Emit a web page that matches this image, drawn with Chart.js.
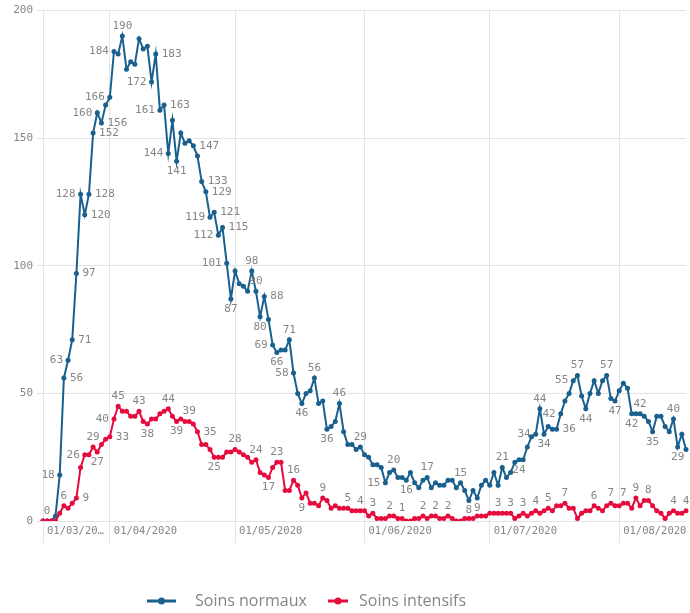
<!DOCTYPE html>
<html>
<head>
<meta charset="utf-8">
<title>Soins normaux / Soins intensifs</title>
<script src="https://cdn.jsdelivr.net/npm/chart.js"></script>
<style>
    html, body {
        margin: 0;
        padding: 0;
        background: #ffffff;
    }
    #wrap {
        width: 690px;
        height: 613px;
    }
</style>
</head>
<body>
<div id="wrap"><canvas id="hospChart"></canvas></div>
<script>
    // daily values from 16/03/2020
    const soinsNormaux = [
        0, 0, 0, 2, 18, 56, 63, 71, 97, 128,
        120, 128, 152, 160, 156, 163, 166, 184, 183, 190,
        177, 180, 179, 189, 185, 186, 172, 183, 161, 163,
        144, 157, 141, 152, 148, 149, 147, 143, 133, 129,
        119, 121, 112, 115, 101, 87, 98, 93, 92, 90,
        98, 90, 80, 88, 79, 69, 66, 67, 67, 71,
        58, 50, 46, 50, 51, 56, 46, 47, 36, 37,
        39, 46, 35, 30, 30, 28, 29, 26, 25, 22,
        22, 21, 15, 19, 20, 17, 17, 16, 19, 15,
        13, 16, 17, 13, 15, 14, 14, 16, 16, 13,
        15, 12, 8, 12, 9, 14, 16, 14, 19, 14,
        21, 17, 19, 23, 24, 24, 29, 33, 34, 44,
        34, 37, 36, 36, 42, 47, 50, 55, 57, 49,
        44, 50, 55, 50, 55, 57, 48, 47, 51, 54,
        52, 42, 42, 42, 41, 39, 35, 41, 41, 37,
        35, 40, 29, 34, 28
    ];
    const soinsIntensifs = [
        0, 0, 0, 0, 3, 6, 5, 7, 9, 21,
        26, 26, 29, 27, 30, 32, 33, 40, 45, 43,
        43, 41, 41, 43, 39, 38, 40, 40, 42, 43,
        44, 41, 39, 40, 39, 39, 38, 35, 30, 30,
        28, 25, 25, 25, 27, 27, 28, 27, 26, 25,
        23, 24, 19, 18, 17, 21, 23, 23, 12, 12,
        16, 14, 9, 11, 7, 7, 6, 9, 8, 5,
        6, 5, 5, 5, 4, 4, 4, 4, 2, 3,
        1, 1, 1, 2, 2, 1, 1, 0, 0, 1,
        1, 2, 1, 2, 2, 1, 1, 2, 1, 0,
        0, 1, 1, 1, 2, 2, 2, 3, 3, 3,
        3, 3, 3, 1, 2, 3, 2, 3, 4, 3,
        4, 5, 4, 6, 6, 7, 5, 5, 1, 3,
        4, 4, 6, 5, 4, 6, 7, 6, 6, 7,
        7, 5, 9, 6, 8, 8, 6, 4, 3, 1,
        3, 4, 3, 3, 4
    ];

    const categories = soinsNormaux.map((v, i) => {
        const d = new Date(2020, 2, 16 + i);
        return String(d.getDate()).padStart(2, "0") + "/" +
               String(d.getMonth() + 1).padStart(2, "0") + "/" + d.getFullYear();
    });

    const tickDates  = ["16/03/2020", "01/04/2020", "01/05/2020", "01/06/2020", "01/07/2020", "01/08/2020"];
    const tickLabels = ["01/03/20\u2026", "01/04/2020", "01/05/2020", "01/06/2020", "01/07/2020", "01/08/2020"];
    const yTicks = [0, 50, 100, 150, 200];

    // which points carry a value label (a = above, b = below, l = left, r = right)
    const normauxLabelIdx = [4, 5, 6, 7, 8, 9, 10, 11, 12, 13, 14, 16, 17, 19, 26, 27, 28, 29, 30, 32,
                             36, 38, 39, 40, 41, 42, 43, 44, 45, 50, 51, 52, 53, 55, 56, 59, 60, 62, 65, 68,
                             71, 76, 82, 84, 87, 92, 100, 102, 104, 110, 114, 118, 119, 120, 123, 124, 127, 128, 130, 135,
                             137, 141, 143, 146, 151, 152];
    const normauxLabelPos = ["l", "r", "l", "r", "r", "l", "r", "r", "r", "l", "r", "l", "l", "a", "l", "r", "l", "r", "l", "b",
                             "r", "r", "r", "l", "r", "l", "r", "l", "b", "a", "a", "b", "r", "l", "b", "a", "l", "b", "a", "b",
                             "a", "a", "l", "a", "b", "a", "a", "b", "b", "a", "b", "l", "a", "b", "r", "l", "l", "a", "b", "a",
                             "b", "b", "a", "b", "a", "b"];
    const intensifsLabelIdx = [1, 5, 8, 10, 12, 13, 16, 17, 18, 23, 25, 30, 32, 35, 37, 41, 46, 51, 54, 56,
                               60, 62, 67, 73, 76, 79, 83, 86, 91, 94, 97, 109, 112, 115, 118, 121, 125, 132, 136, 139,
                               142, 145, 151, 154];
    const intensifsLabelPos = ["a", "a", "r", "l", "a", "b", "r", "l", "a", "a", "b", "a", "b", "a", "r", "b", "a", "a", "b", "a",
                               "a", "b", "a", "a", "a", "a", "a", "a", "a", "a", "a", "a", "a", "a", "a", "a", "a", "a", "a", "a",
                               "a", "a", "a", "a"];

    const blue = "#19608f";
    const red = "#e60b3d";
    const grey = "#858585";
    const gridGrey = "#e3e3e3";
    const monoFont = "'DejaVu Sans Mono', monospace";

    const labelSets = [
        { data: soinsNormaux, idx: normauxLabelIdx, pos: normauxLabelPos },
        { data: soinsIntensifs, idx: intensifsLabelIdx, pos: intensifsLabelPos }
    ];

    const pointLabels = {
        id: "pointLabels",
        afterDatasetsDraw(chart) {
            const ctx = chart.ctx;
            ctx.save();
            ctx.font = "11px " + monoFont;
            ctx.fillStyle = grey;
            labelSets.forEach((set, di) => {
                const meta = chart.getDatasetMeta(di);
                set.idx.forEach((idx, k) => {
                    const pt = meta.data[idx];
                    let x = pt.x, y = pt.y;
                    ctx.textAlign = "center";
                    ctx.textBaseline = "middle";
                    if (set.pos[k] === "a") y -= 10;
                    else if (set.pos[k] === "b") y += 10;
                    else if (set.pos[k] === "l") { ctx.textAlign = "right"; x -= 5; }
                    else { ctx.textAlign = "left"; x += 6; }
                    ctx.fillText(String(set.data[idx]), x, y);
                });
            });
            ctx.restore();
        }
    };

    // legend drawn under the axis, line + dot symbols like the original
    const bottomLegend = {
        id: "bottomLegend",
        afterDraw(chart) {
            const ctx = chart.ctx;
            const y = 601;
            const items = [
                { text: "Soins normaux", color: blue, x0: 147, x1: 176, tx: 195 },
                { text: "Soins intensifs", color: red, x0: 328, x1: 348, tx: 359 }
            ];
            ctx.save();
            items.forEach(it => {
                ctx.strokeStyle = it.color;
                ctx.lineWidth = 3;
                ctx.beginPath();
                ctx.moveTo(it.x0, y);
                ctx.lineTo(it.x1, y);
                ctx.stroke();
                ctx.fillStyle = it.color;
                ctx.beginPath();
                ctx.arc((it.x0 + it.x1) / 2, y, 3.5, 0, Math.PI * 2);
                ctx.fill();
                ctx.fillStyle = grey;
                ctx.font = "16px 'Open Sans', sans-serif";
                ctx.textAlign = "left";
                ctx.textBaseline = "middle";
                ctx.fillText(it.text, it.tx, y);
            });
            ctx.restore();
        }
    };

    const ctx = document.getElementById("hospChart").getContext("2d");
    const hospChart = new Chart(ctx, {
        type: "line",
        data: {
            labels: categories,
            datasets: [{
                label: "Soins normaux",
                data: soinsNormaux,
                borderColor: blue,
                backgroundColor: blue,
                borderWidth: 2,
                pointRadius: 2.5,
                pointBorderWidth: 0,
                pointBackgroundColor: blue,
                tension: 0,
                order: 1
            }, {
                label: "Soins intensifs",
                data: soinsIntensifs,
                borderColor: red,
                backgroundColor: red,
                borderWidth: 2,
                pointRadius: 2.5,
                pointBorderWidth: 0,
                pointBackgroundColor: red,
                tension: 0,
                order: 0
            }]
        },
        options: {
            responsive: true,
            maintainAspectRatio: false,
            animation: false,
            layout: { padding: { top: 8, right: 2, left: 0, bottom: 0 } },
            plugins: {
                legend: { display: false },
                tooltip: { enabled: false }
            },
            scales: {
                x: {
                    type: "category",
                    afterBuildTicks: axis => {
                        axis.ticks = tickDates.map(d => ({ value: categories.indexOf(d) }));
                    },
                    afterFit: axis => { axis.height = 92; },
                    grid: { color: gridGrey, tickLength: 22 },
                    border: { color: gridGrey },
                    ticks: {
                        autoSkip: false,
                        maxRotation: 0,
                        minRotation: 0,
                        align: "start",
                        labelOffset: 4,
                        padding: -18,
                        color: grey,
                        font: { family: monoFont, size: 10.5 },
                        callback: value => tickLabels[tickDates.indexOf(categories[value])]
                    }
                },
                y: {
                    min: 0,
                    max: 200,
                    afterBuildTicks: axis => {
                        axis.ticks = yTicks.map(v => ({ value: v }));
                    },
                    afterFit: axis => { axis.width = 43; },
                    grid: { color: gridGrey, tickLength: 6 },
                    border: { color: gridGrey },
                    ticks: {
                        padding: 4,
                        color: grey,
                        font: { family: monoFont, size: 11 }
                    }
                }
            }
        },
        plugins: [pointLabels, bottomLegend]
    });
</script>
</body>
</html>
